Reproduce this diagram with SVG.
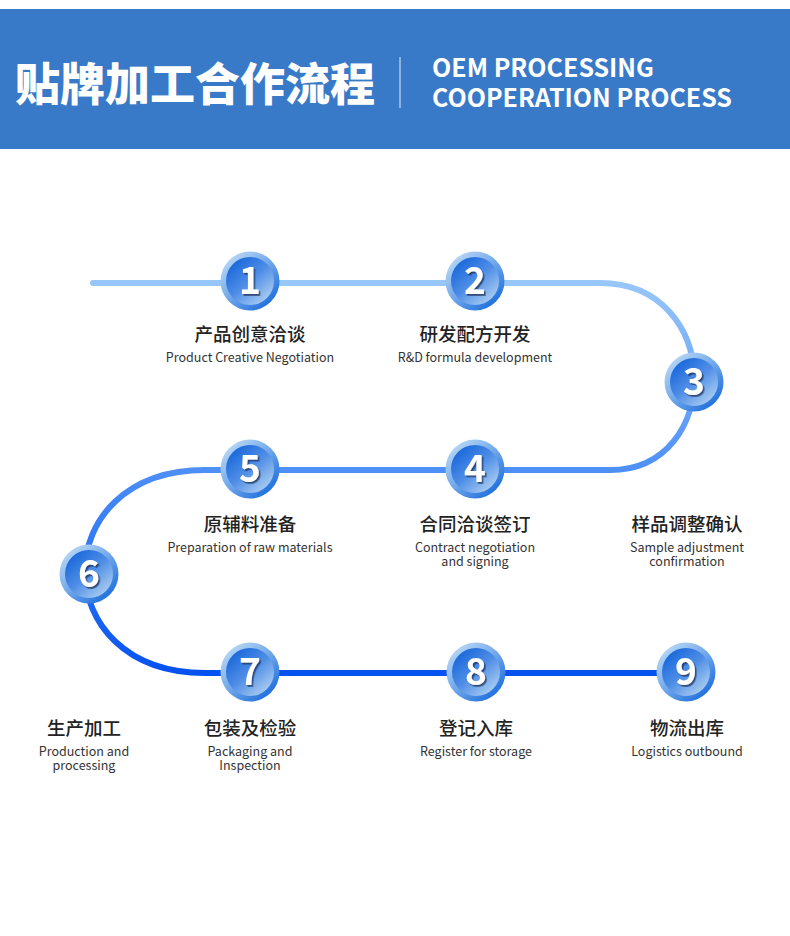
<svg xmlns="http://www.w3.org/2000/svg" width="790" height="936" viewBox="0 0 790 936">
<defs>
<linearGradient id="lineGrad" gradientUnits="userSpaceOnUse" x1="0" y1="283" x2="0" y2="673">
<stop offset="0" stop-color="#97C6F9"/>
<stop offset="0.5" stop-color="#4A8DF6"/>
<stop offset="1" stop-color="#0652F0"/>
</linearGradient>
<linearGradient id="ringGrad" x1="0.15" y1="0.1" x2="0.85" y2="0.9">
<stop offset="0" stop-color="#B6D6F4"/>
<stop offset="0.5" stop-color="#6FA6EA"/>
<stop offset="1" stop-color="#1F6FDD"/>
</linearGradient>
<linearGradient id="coreGrad" x1="0.15" y1="0.1" x2="0.85" y2="0.9">
<stop offset="0" stop-color="#1A68DB"/>
<stop offset="0.5" stop-color="#4F8EE6"/>
<stop offset="1" stop-color="#A9CCF1"/>
</linearGradient>
<filter id="numShadow" x="-30%" y="-30%" width="160%" height="160%">
<feDropShadow dx="1.6" dy="1.8" stdDeviation="0.7" flood-color="#1B2F55" flood-opacity="0.75"/>
</filter>
</defs>
<style>
.ring{fill:url(#ringGrad)}
.core{fill:url(#coreGrad)}
.num{font-family:"Noto Sans CJK SC","Noto Sans",sans-serif;font-weight:700;font-size:37px;fill:#FFFFFF;text-anchor:middle;filter:url(#numShadow)}
.cn{font-family:"Noto Sans CJK SC",sans-serif;font-weight:500;font-size:18.5px;fill:#222222;text-anchor:middle}
.en{font-family:"Noto Sans CJK SC","Noto Sans",sans-serif;font-weight:400;font-size:12.5px;fill:#333333;text-anchor:middle}
.hen{font-family:"Noto Sans CJK SC","Noto Sans",sans-serif;font-weight:700;font-size:25px;fill:#FFFFFF}
</style>
<rect x="0" y="0" width="790" height="936" fill="#FFFFFF"/>
<g id="header">
<rect x="0" y="9" width="790" height="140" fill="#3879C8"/>
<text x="15" y="101" font-family="Noto Sans CJK SC, sans-serif" font-weight="900" font-size="45" fill="#FFFFFF">贴牌加工合作流程</text>
<line x1="400" y1="57" x2="400" y2="108" stroke="#FFFFFF" stroke-width="1" opacity="0.85"/>
<text class="hen" x="432" y="77">OEM PROCESSING</text>
<text class="hen" x="432" y="107">COOPERATION PROCESS</text>
</g>
<g id="connectors">
<path d="M 93 283 L 600 283 C 724 283 724 470 610 470 L 205 470 C 45 470 45 673 205 673 L 686 673" fill="none" stroke="url(#lineGrad)" stroke-width="6" stroke-linecap="round" stroke-linejoin="round"/>
</g>
<g id="step1">
<circle class="ring" cx="250" cy="281" r="29.5"/><circle class="core" cx="250" cy="281" r="24"/>
<text class="num" x="250" y="294">1</text>
<text class="cn" x="250" y="341">产品创意洽谈</text>
<text class="en" x="250" y="362">Product Creative Negotiation</text>
</g>
<g id="step2">
<circle class="ring" cx="475" cy="281" r="29.5"/><circle class="core" cx="475" cy="281" r="24"/>
<text class="num" x="475" y="294">2</text>
<text class="cn" x="475" y="341">研发配方开发</text>
<text class="en" x="475" y="362">R&amp;D formula development</text>
</g>
<g id="step3">
<circle class="ring" cx="694" cy="382" r="29.5"/><circle class="core" cx="694" cy="382" r="24"/>
<text class="num" x="694" y="395">3</text>
<text class="cn" x="687" y="531">样品调整确认</text>
<text class="en" x="687" y="552">Sample adjustment</text>
<text class="en" x="687" y="566">confirmation</text>
</g>
<g id="step4">
<circle class="ring" cx="475" cy="469" r="29.5"/><circle class="core" cx="475" cy="469" r="24"/>
<text class="num" x="475" y="482">4</text>
<text class="cn" x="475" y="531">合同洽谈签订</text>
<text class="en" x="475" y="552">Contract negotiation</text>
<text class="en" x="475" y="566">and signing</text>
</g>
<g id="step5">
<circle class="ring" cx="250" cy="469" r="29.5"/><circle class="core" cx="250" cy="469" r="24"/>
<text class="num" x="250" y="482">5</text>
<text class="cn" x="250" y="531">原辅料准备</text>
<text class="en" x="250" y="552">Preparation of raw materials</text>
</g>
<g id="step6">
<circle class="ring" cx="89" cy="574" r="29.5"/><circle class="core" cx="89" cy="574" r="24"/>
<text class="num" x="89" y="587">6</text>
<text class="cn" x="84" y="735">生产加工</text>
<text class="en" x="84" y="756">Production and</text>
<text class="en" x="84" y="770">processing</text>
</g>
<g id="step7">
<circle class="ring" cx="250" cy="672" r="29.5"/><circle class="core" cx="250" cy="672" r="24"/>
<text class="num" x="250" y="685">7</text>
<text class="cn" x="250" y="735">包装及检验</text>
<text class="en" x="250" y="756">Packaging and</text>
<text class="en" x="250" y="770">Inspection</text>
</g>
<g id="step8">
<circle class="ring" cx="476" cy="672" r="29.5"/><circle class="core" cx="476" cy="672" r="24"/>
<text class="num" x="476" y="685">8</text>
<text class="cn" x="476" y="735">登记入库</text>
<text class="en" x="476" y="756">Register for storage</text>
</g>
<g id="step9">
<circle class="ring" cx="686" cy="672" r="29.5"/><circle class="core" cx="686" cy="672" r="24"/>
<text class="num" x="686" y="685">9</text>
<text class="cn" x="687" y="735">物流出库</text>
<text class="en" x="687" y="756">Logistics outbound</text>
</g>
</svg>
